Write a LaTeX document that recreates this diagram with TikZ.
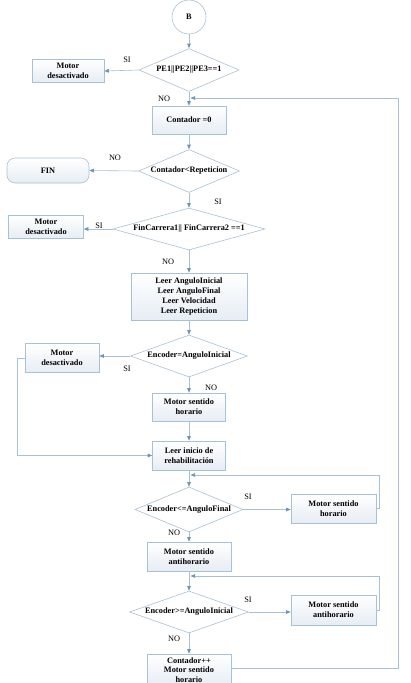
\documentclass[tikz,border=0pt]{standalone}
\usepackage{fontspec}
\setmainfont{Liberation Serif}
\usetikzlibrary{shapes.geometric,arrows.meta,positioning}
\definecolor{linec}{HTML}{A9C1D6}
\definecolor{tipc}{HTML}{6E93B6}
\definecolor{boxbot}{HTML}{E6EDF4}
\begin{document}
\begin{tikzpicture}[x=1pt,y=-1pt,
  every node/.style={font=\fontsize{8.3}{9.8}\selectfont\bfseries, align=center, inner sep=0pt},
  box/.style={draw=linec, line width=0.6pt, rectangle, top color=white, bottom color=boxbot},
  dia/.style={draw=linec, line width=0.6pt, diamond, fill=white},
  lbl/.style={font=\fontsize{8.3}{9.8}\selectfont\mdseries},
  conn/.style={draw=linec, line width=0.6pt, -{Triangle[length=4.5pt,width=3.5pt,color=tipc]}},
  plain/.style={draw=linec, line width=0.6pt}
]
\useasboundingbox (0,0) rectangle (410,683);
\fill[white] (0,0) rectangle (410,683);

\node[draw=linec, line width=0.6pt, circle, fill=white, minimum size=34pt] (B) at (189,17) {B};
\node[dia, minimum width=100pt, minimum height=43pt] (d1) at (189,70) {\makebox[0pt]{PE1||PE2||PE3==1}};
\node[box, minimum width=72pt, minimum height=23pt] (m1) at (68,71) {Motor\\desactivado};
\node[box, minimum width=74pt, minimum height=28pt] (c0) at (189,120) {Contador =0};
\node[dia, minimum width=101pt, minimum height=43pt] (d2) at (189,171) {\makebox[0pt]{Contador<Repeticion}};
\node[box, rounded corners=8pt, minimum width=82pt, minimum height=25pt] (fin) at (48,170.5) {FIN};
\node[dia, minimum width=152pt, minimum height=42pt] (d3) at (189,229) {\makebox[0pt]{FinCarrera1|| FinCarrera2 ==1}};
\node[box, minimum width=75pt, minimum height=23pt] (m2) at (46,227) {Motor\\desactivado};
\node[box, minimum width=116pt, minimum height=47pt] (leer) at (189,296.5) {Leer AnguloInicial\\Leer AnguloFinal\\Leer Velocidad\\Leer Repeticion};
\node[dia, minimum width=117pt, minimum height=42pt] (d4) at (189,356) {\makebox[0pt]{Encoder=AnguloInicial}};
\node[box, minimum width=74pt, minimum height=29pt] (m3) at (62,358) {Motor\\desactivado};
\node[box, minimum width=73pt, minimum height=28pt] (msh1) at (189,407) {Motor sentido\\horario};
\node[box, minimum width=73pt, minimum height=29pt] (li) at (189,455.5) {Leer inicio de\\rehabilitación};
\node[dia, minimum width=108pt, minimum height=45pt] (d5) at (189,509.5) {\makebox[0pt]{Encoder<=AnguloFinal}};
\node[box, minimum width=85pt, minimum height=29pt] (msh2) at (333.5,508.5) {Motor sentido\\horario};
\node[box, minimum width=84pt, minimum height=29pt] (msa1) at (189,556.5) {Motor sentido\\antihorario};
\node[dia, minimum width=119pt, minimum height=42pt] (d6) at (189,612) {\makebox[0pt]{Encoder>=AnguloInicial}};
\node[box, minimum width=85pt, minimum height=30pt] (msa2) at (333.5,610) {Motor sentido\\antihorario};
\node[box, minimum width=84pt, minimum height=32pt, font=\fontsize{8.3}{9.4}\selectfont\bfseries] (cpp) at (189,670) {Contador++\\Motor sentido\\horario};

% connectors
\draw[conn] (B) -- (d1);
\draw[conn] (d1.west) -- (m1.east);
\draw[conn] (d1.south) -- (c0.north);
\draw[conn] (c0) -- (d2);
\draw[conn] (d2.west) -- (fin.east);
\draw[conn] (d2.south) -- (d3.north);
\draw[conn] (d3.west) -- (m2.east |- d3.west);
\draw[conn] (d3.south) -- (leer.north);
\draw[conn] (leer) -- (d4);
\draw[conn] (d4.west) -- (m3.east |- d4.west);
\draw[conn] (d4.south) -- (msh1.north);
\draw[conn] (m3.west) -- (17,358) -- (17,455.5) -- (li.west);
\draw[conn] (msh1) -- (li);
\draw[conn] (li) -- (d5);
\draw[conn] (d5.east) -- (msh2.west |- d5.east);
\coordinate (j1) at (190.5,475);
\draw[conn] (msh2.east) -- (379,508.5) -- (379,475) -- (j1);
\draw[conn] (d5.south) -- (msa1.north);
\draw[conn] (msa1) -- (d6);
\draw[conn] (d6.east) -- (msa2.west |- d6.east);
\coordinate (j2) at (190.5,576);
\draw[conn] (msa2.east) -- (379,610) -- (379,576) -- (j2);
\draw[conn] (d6.south) -- (cpp.north);
\coordinate (j3) at (190.5,98);
\draw[conn] (cpp.east |- 0,668) -- (398,668) -- (398,98) -- (j3);

% labels
\node[lbl] at (127,60) {SI};
\node[lbl] at (164,99) {NO};
\node[lbl] at (115,158) {NO};
\node[lbl] at (218,202) {SI};
\node[lbl] at (99,226) {SI};
\node[lbl] at (168,262) {NO};
\node[lbl] at (127,369) {SI};
\node[lbl] at (211,388) {NO};
\node[lbl] at (248,497) {SI};
\node[lbl] at (174,533) {NO};
\node[lbl] at (248,600) {SI};
\node[lbl] at (174,639) {NO};
\end{tikzpicture}
\end{document}
